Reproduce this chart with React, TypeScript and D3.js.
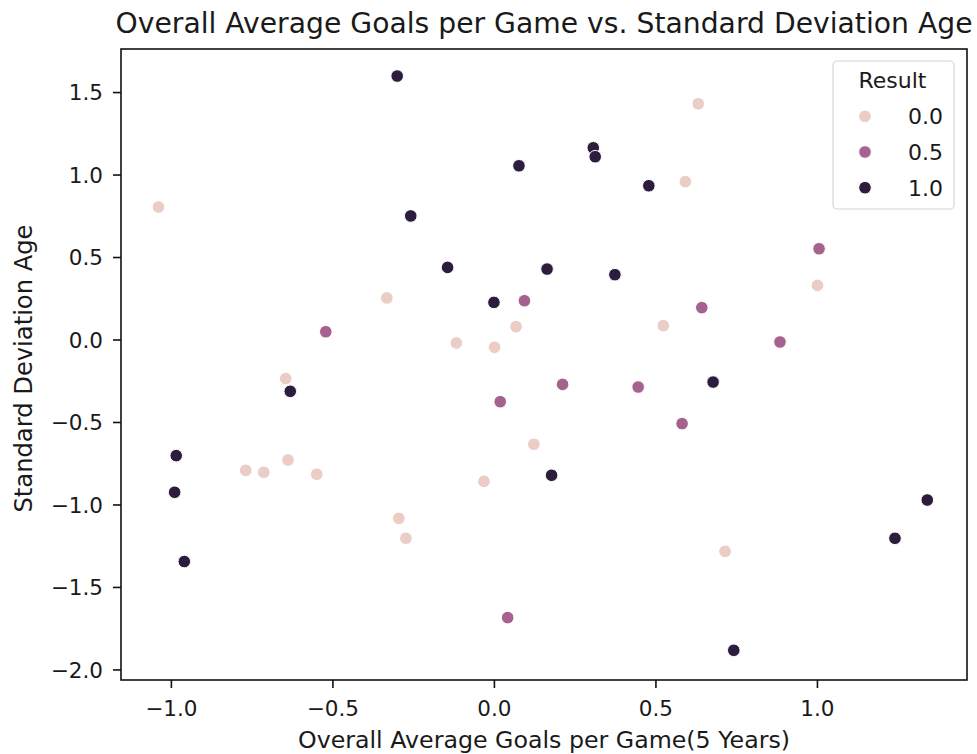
import React from "react";
import * as d3 from "d3";

// Result = 0.0
const x0 = [-1.04, -0.333, 0.067, -0.118, 0.0006, 0.631, 0.591, 1.0, 0.523, -0.646, -0.77, -0.714, -0.639, -0.55, 0.122, -0.0325, -0.296, -0.274, 0.714];
const y0 = [0.806, 0.255, 0.081, -0.018, -0.044, 1.432, 0.96, 0.331, 0.087, -0.234, -0.79, -0.802, -0.727, -0.814, -0.632, -0.857, -1.081, -1.202, -1.281];
// Result = 0.5
const x5 = [0.093, -0.522, 1.005, 0.642, 0.884, 0.018, 0.211, 0.445, 0.581, 0.041];
const y5 = [0.238, 0.05, 0.553, 0.196, -0.012, -0.374, -0.269, -0.285, -0.507, -1.683];
// Result = 1.0
const x1 = [-0.301, 0.076, -0.259, -0.145, 0.163, -0.0015, 0.306, 0.312, 0.478, 0.373, -0.632, -0.985, 0.177, -0.99, -0.96, 0.677, 1.34, 1.24, 0.741];
const y1 = [1.6, 1.056, 0.752, 0.44, 0.43, 0.228, 1.165, 1.111, 0.935, 0.396, -0.311, -0.701, -0.82, -0.923, -1.343, -0.255, -0.97, -1.202, -1.881];

const resultLevels = [0.0, 0.5, 1.0];
const legendLabels = ["0.0", "0.5", "1.0"];
const xTicks = [-1.0, -0.5, 0.0, 0.5, 1.0];
const yTicks = [-2.0, -1.5, -1.0, -0.5, 0.0, 0.5, 1.0, 1.5];

const W = 977;
const H = 754;
const L = 121, R = 967, T = 49, B = 680;

export default function App() {
  const x = d3.scaleLinear().domain([-1.156, 1.463]).range([L, R]);
  const y = d3.scaleLinear().domain([-2.061, 1.764]).range([B, T]);
  const color = d3.scaleOrdinal<number, string>().domain(resultLevels).range(["#ebcdc6", "#a6628e", "#2d1d3d"]);
  const fmt = d3.format(".1f");

  const pts: { x: number; y: number; r: number }[] = [];
  // interleave roughly like data order: draw in groups
  x0.forEach((v, i) => pts.push({ x: v, y: y0[i], r: 0.0 }));
  x5.forEach((v, i) => pts.push({ x: v, y: y5[i], r: 0.5 }));
  x1.forEach((v, i) => pts.push({ x: v, y: y1[i], r: 1.0 }));

  const font = "DejaVu Sans, sans-serif";
  const txt = "#1a1a1a";

  return (
    <svg width={W} height={H} style={{ position: "absolute", left: 0, top: 0, background: "#fff" }} fontFamily={font}>
      <rect x={0} y={0} width={W} height={H} fill="#fff" />
      <text x={(L + R) / 2} y={33} textAnchor="middle" fontSize={28} fill={txt} textLength={857} lengthAdjust="spacingAndGlyphs">
        Overall Average Goals per Game vs. Standard Deviation Age
      </text>
      {pts.map((p, i) => (
        <circle key={i} cx={x(p.x)} cy={y(p.y)} r={6.3} fill={color(p.r)} stroke="#fff" strokeWidth={1} />
      ))}
      {/* axes */}
      <rect x={L} y={T} width={R - L} height={B - T} fill="none" stroke="#111" strokeWidth={1.6} />
      {xTicks.map((t) => (
        <g key={"x" + t}>
          <line x1={x(t)} x2={x(t)} y1={B} y2={B + 8} stroke="#111" strokeWidth={1.6} />
          <text x={x(t)} y={716} textAnchor="middle" fontSize={21.5} fill={txt}>{fmt(t)}</text>
        </g>
      ))}
      {yTicks.map((t) => (
        <g key={"y" + t}>
          <line x1={L - 8} x2={L} y1={y(t)} y2={y(t)} stroke="#111" strokeWidth={1.6} />
          <text x={103} y={y(t)} dy="0.36em" textAnchor="end" fontSize={21.5} fill={txt}>{fmt(t)}</text>
        </g>
      ))}
      <text x={(L + R) / 2} y={748} textAnchor="middle" fontSize={23.5} fill={txt} textLength={492} lengthAdjust="spacingAndGlyphs">
        Overall Average Goals per Game(5 Years)
      </text>
      <text transform={`translate(32, ${(T + B) / 2 + 4}) rotate(-90)`} textAnchor="middle" fontSize={24} fill={txt} textLength={288} lengthAdjust="spacingAndGlyphs">
        Standard Deviation Age
      </text>
      {/* legend */}
      <rect x={833} y={61} width={121} height={148} rx={4} ry={4} fill="#fff" fillOpacity={0.8} stroke="#d6d6d6" strokeWidth={1.2} />
      <text x={892.5} y={88} textAnchor="middle" fontSize={22} fill={txt}>Result</text>
      {resultLevels.map((lv, i) => {
        const cy = 116.3 + i * 35.7;
        return (
          <g key={"lg" + i}>
            <circle cx={865} cy={cy} r={6.3} fill={color(lv)} stroke="#fff" strokeWidth={1} />
            <text x={943} y={cy} dy="0.36em" textAnchor="end" fontSize={22} fill={txt}>{legendLabels[i]}</text>
          </g>
        );
      })}
    </svg>
  );
}
